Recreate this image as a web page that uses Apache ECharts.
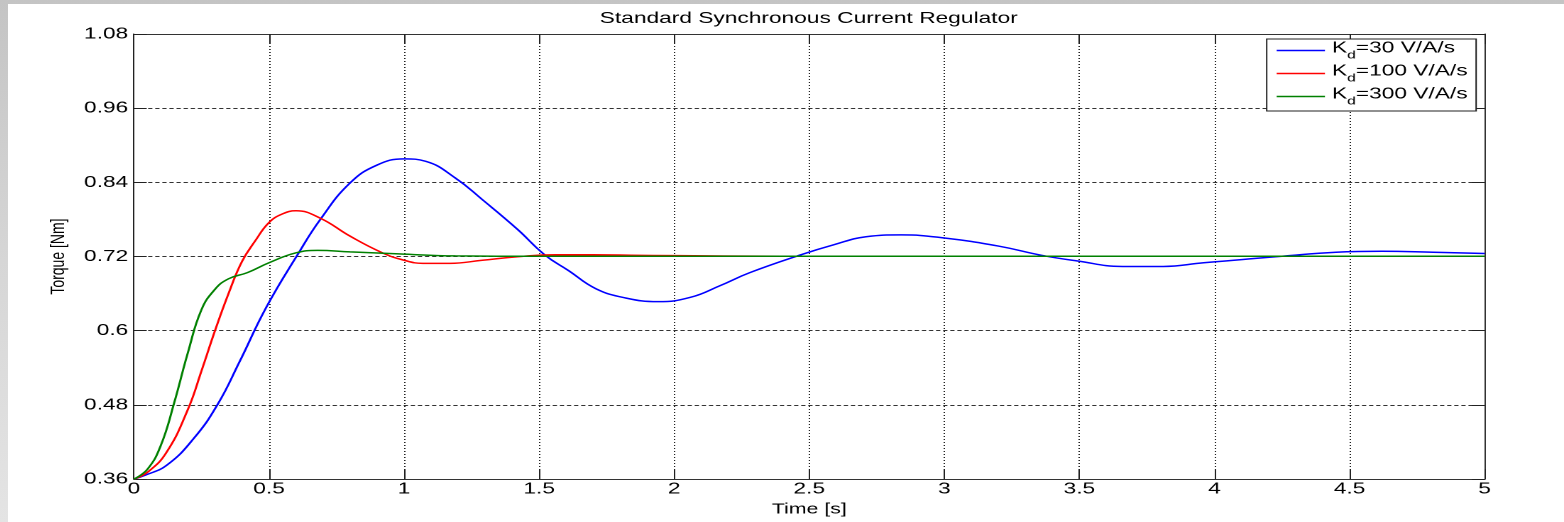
<!DOCTYPE html>
<html>
<head>
<meta charset="utf-8">
<title>Standard Synchronous Current Regulator</title>
<script src="https://cdn.jsdelivr.net/npm/echarts@6/dist/echarts.min.js"></script>
<style>
  html, body { margin: 0; padding: 0; }
  body {
    width: 1564px; height: 522px; overflow: hidden; position: relative;
    background: linear-gradient(180deg, #c4c4c4 0%, #d6d6d6 50%, #e4e4e4 100%);
  }
  #frame {
    position: absolute; left: 8px; top: 4px; width: 1556px; height: 518px;
    background: #ffffff; overflow: hidden;
  }
  /* the figure is laid out narrower and stretched horizontally, as exported */
  #chart {
    position: absolute; left: 0; top: 0; width: 1096px; height: 518px;
    transform: scaleX(1.4197); transform-origin: 0 0;
  }
</style>
</head>
<body>
<div id="frame"><div id="chart"></div></div>
<script>
// Step responses of the torque for three derivative gains
const seriesNames = ['Kd=30 V/A/s', 'Kd=100 V/A/s', 'Kd=300 V/A/s'];
const seriesColors = ['#0000ff', '#ff0000', '#008000'];

const timeKd30 = [0, 0.04, 0.12, 0.22, 0.31, 0.39, 0.49, 0.61, 0.69, 0.80, 0.90, 1.00, 1.08, 1.19,
  1.29, 1.42, 1.52, 1.61, 1.71, 1.82, 1.94, 2.06, 2.17, 2.28, 2.47, 2.59, 2.71, 2.84, 3.00, 3.20,
  3.36, 3.49, 3.66, 3.81, 3.96, 4.10, 4.25, 4.45, 4.62, 4.81, 5.00];
const torqueKd30 = [0.36, 0.366, 0.382, 0.425, 0.481, 0.549, 0.638, 0.726, 0.780, 0.839, 0.868, 0.878, 0.874, 0.847,
  0.812, 0.764, 0.723, 0.697, 0.668, 0.653, 0.647, 0.654, 0.673, 0.694, 0.723, 0.739, 0.752, 0.755, 0.750, 0.737,
  0.722, 0.713, 0.704, 0.704, 0.710, 0.715, 0.7205, 0.727, 0.7286, 0.727, 0.725];

const timeKd100 = [0, 0.05, 0.12, 0.20, 0.25, 0.30, 0.35, 0.40, 0.45, 0.50, 0.55, 0.60, 0.69, 0.80, 0.92, 1.00,
  1.07, 1.17, 1.29, 1.42, 1.56, 1.70, 1.88, 2.50, 5.00];
const torqueKd100 = [0.36, 0.371, 0.403, 0.473, 0.535, 0.600, 0.660, 0.712, 0.746, 0.775, 0.789, 0.794, 0.782, 0.753, 0.726, 0.714,
  0.709, 0.709, 0.714, 0.7196, 0.723, 0.723, 0.722, 0.7205, 0.7205];

const timeKd300 = [0, 0.05, 0.10, 0.15, 0.20, 0.25, 0.30, 0.35, 0.42, 0.50, 0.60, 0.68, 0.80, 0.98,
  1.19, 1.50, 5.00];
const torqueKd300 = [0.36, 0.376, 0.415, 0.485, 0.565, 0.634, 0.667, 0.684, 0.694, 0.710, 0.726, 0.730, 0.7276, 0.7244,
  0.721, 0.7205, 0.7205];

const timeTicks = { min: 0, max: 5, interval: 0.5 };
const torqueTicks = { min: 0.36, max: 1.08, interval: 0.12 };

const FONT = '"Liberation Sans", Arial, sans-serif';

function pairs(t, v) { return t.map((x, i) => [x, v[i]]); }
const curves = [pairs(timeKd30, torqueKd30), pairs(timeKd100, torqueKd100), pairs(timeKd300, torqueKd300)];

const chart = echarts.init(document.getElementById('chart'), null, { renderer: 'canvas', devicePixelRatio: 2 });

const frameAxis = (pos) => ({
  type: 'value', position: pos,
  axisLine: { show: true, onZero: false, lineStyle: { color: '#333', width: 1 } },
  axisTick: { show: true, inside: true, lineStyle: { color: '#222' } },
  axisLabel: { show: false },
  splitLine: { show: false }
});

chart.setOption({
  animation: false,
  backgroundColor: '#ffffff',
  graphic: [{
    type: 'text', x: 564, y: 14.6, silent: true,
    style: {
      text: 'Standard Synchronous Current Regulator',
      font: '16px ' + FONT, fill: '#000', textAlign: 'center', textVerticalAlign: 'middle'
    }
  }],
  grid: { left: 88.7, right: 55.9, top: 30, bottom: 42, containLabel: false },
  legend: {
    data: seriesNames,
    orient: 'vertical',
    left: 886.6, top: 35,
    padding: [1, 6, 4, 7],
    itemGap: 2,
    icon: 'rect',
    itemWidth: 34, itemHeight: 1.5,
    backgroundColor: '#ffffff',
    borderColor: '#222', borderWidth: 1,
    formatter: (name) => '{k|K}{d|d}{k|' + name.slice(2) + '}',
    textStyle: {
      rich: {
        k: { fontSize: 16, fontFamily: FONT, color: '#000', padding: [0, 0, 5, 0] },
        d: { fontSize: 11, fontFamily: FONT, color: '#000', padding: [10, 0, 0, 0] }
      }
    }
  },
  xAxis: [
    {
      type: 'value', min: timeTicks.min, max: timeTicks.max, interval: timeTicks.interval,
      name: 'Time [s]', nameLocation: 'middle', nameGap: 19,
      nameTextStyle: { fontSize: 15, fontFamily: FONT, color: '#000' },
      axisLine: { show: true, onZero: false, lineStyle: { color: '#333', width: 1 } },
      axisTick: { show: true, inside: true, length: 10, lineStyle: { color: '#222' } },
      axisLabel: { margin: 2, fontSize: 16, fontFamily: FONT, color: '#000' },
      splitLine: { show: true, lineStyle: { color: '#222', type: [1, 2], width: 1 } }
    },
    Object.assign(frameAxis('top'), { min: timeTicks.min, max: timeTicks.max, interval: timeTicks.interval,
      axisTick: { show: true, inside: true, length: 10, lineStyle: { color: '#222' } } })
  ],
  yAxis: [
    {
      type: 'value', min: torqueTicks.min, max: torqueTicks.max, interval: torqueTicks.interval,
      name: 'Torque [Nm]', nameLocation: 'middle', nameGap: 44,
      nameTextStyle: { fontSize: 14, fontFamily: FONT, color: '#000' },
      axisLine: { show: true, onZero: false, lineStyle: { color: '#222', width: 1 } },
      axisTick: { show: true, inside: true, length: 9, lineStyle: { color: '#222' } },
      axisLabel: { margin: 4, fontSize: 16, fontFamily: FONT, color: '#000' },
      splitLine: { show: true, lineStyle: { color: '#333', type: [3, 2], width: 1 } }
    },
    Object.assign(frameAxis('right'), { min: torqueTicks.min, max: torqueTicks.max, interval: torqueTicks.interval,
      axisTick: { show: true, inside: true, length: 9, lineStyle: { color: '#222' } } })
  ],
  series: seriesNames.map((name, i) => ({
    name: name,
    type: 'line',
    xAxisIndex: 0, yAxisIndex: 0,
    data: curves[i],
    smooth: 0.45,
    symbol: 'none',
    z: 2 + i,
    color: seriesColors[i],
    lineStyle: { color: seriesColors[i], width: 1.5 }
  }))
});
</script>
</body>
</html>
